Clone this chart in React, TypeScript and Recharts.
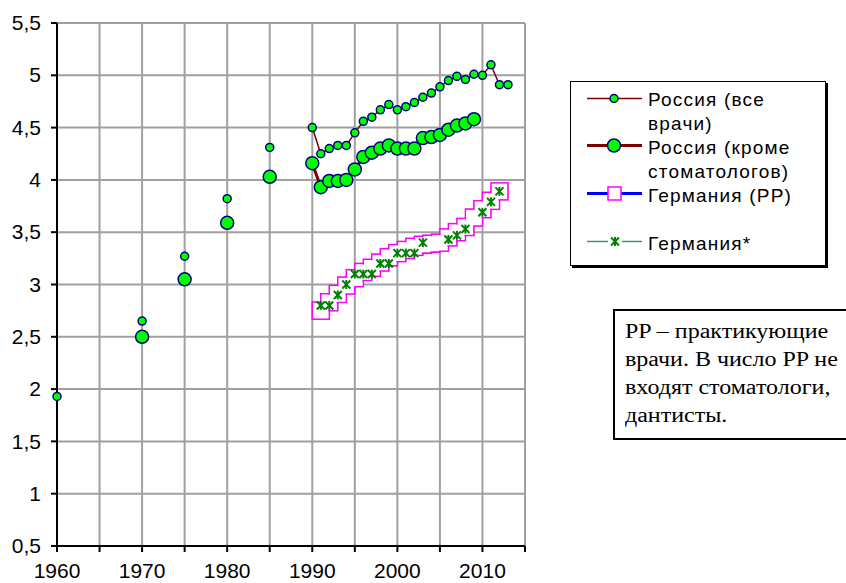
import { LineChart, Line, XAxis, YAxis, CartesianGrid } from "recharts";

// Россия (все врачи)
const russiaAllYears = [
  1960, 1970, 1975, 1980, 1985,
  1990, 1991, 1992, 1993, 1994, 1995, 1996, 1997, 1998, 1999, 2000, 2001,
  2002, 2003, 2004, 2005, 2006, 2007, 2008, 2009, 2010, 2011, 2012, 2013,
];
const russiaAllValues = [
  1.93, 2.65, 3.27, 3.82, 4.31,
  4.5, 4.25, 4.3, 4.33, 4.33, 4.45, 4.56, 4.6, 4.67, 4.72, 4.67, 4.7,
  4.74, 4.79, 4.83, 4.89, 4.95, 4.99, 4.96, 5.01, 5.0, 5.1, 4.91, 4.91,
];

// Россия (кроме стоматологов)
const russiaExclYears = [
  1970, 1975, 1980, 1985,
  1990, 1991, 1992, 1993, 1994, 1995, 1996, 1997, 1998, 1999, 2000, 2001,
  2002, 2003, 2004, 2005, 2006, 2007, 2008, 2009,
];
const russiaExclValues = [
  2.5, 3.05, 3.59, 4.03,
  4.16, 3.93, 3.99, 3.99, 4.0, 4.1, 4.22, 4.26, 4.3, 4.33, 4.3, 4.3,
  4.3, 4.4, 4.41, 4.43, 4.48, 4.52, 4.54, 4.58,
];

// Германия (PP)
const germanyPPYears = [
  1991, 1992, 1993, 1994, 1995, 1996, 1997, 1998, 1999, 2000, 2001,
  2002, 2003, 2004, 2005, 2006, 2007, 2008, 2009, 2010, 2011, 2012,
];
const germanyPPValues = [
  2.75, 2.83, 2.91, 2.99, 3.06, 3.12, 3.16, 3.21, 3.26, 3.3, 3.33,
  3.36, 3.38, 3.39, 3.4, 3.45, 3.5, 3.55, 3.64, 3.72, 3.8, 3.89,
];

// Германия*
const germanyStarYears = [
  1991, 1992, 1993, 1994, 1995, 1996, 1997, 1998, 1999, 2000, 2001,
  2002, 2003, 2006, 2007, 2008, 2010, 2011, 2012,
];
const germanyStarValues = [
  2.8, 2.8, 2.9, 3.0, 3.1, 3.1, 3.1, 3.2, 3.2, 3.3, 3.3,
  3.3, 3.4, 3.43, 3.47, 3.53, 3.69, 3.79, 3.89,
];

const xTicks = [1960, 1965, 1970, 1975, 1980, 1985, 1990, 1995, 2000, 2005, 2010, 2015];
const xLabels = [1960, 1970, 1980, 1990, 2000, 2010];
const yTicks = [0.5, 1, 1.5, 2, 2.5, 3, 3.5, 4, 4.5, 5, 5.5];

const firstYear = 1960;
const lastYear = 2013;

const pick = (years: number[], values: number[], year: number) => {
  const i = years.indexOf(year);
  return i >= 0 ? values[i] : null;
};

// one row per year so that missing years break the lines
const data = Array.from({ length: lastYear - firstYear + 1 }, (_, i) => {
  const year = firstYear + i;
  return {
    year,
    rusAll: pick(russiaAllYears, russiaAllValues, year),
    rusExcl: pick(russiaExclYears, russiaExclValues, year),
    gerPP: pick(germanyPPYears, germanyPPValues, year),
    gerStar: pick(germanyStarYears, germanyStarValues, year),
  };
});

const okPoint = (p: any) =>
  p.value != null && Number.isFinite(p.cx) && Number.isFinite(p.cy);

const SQ = 17;

// outline pass of the square markers
const SquareDot = (props: any) => {
  const { cx, cy, index } = props;
  if (!okPoint(props)) return <g key={`sq-${index}`} />;
  return (
    <rect
      key={`sq-${index}`}
      x={cx - SQ / 2}
      y={cy - SQ / 2}
      width={SQ}
      height={SQ}
      fill="#ffffff"
      stroke="#ff00ff"
      strokeWidth={1.6}
    />
  );
};

// fill pass: wipes the inner edges so only the outer stair outline stays
const SquareFill = (props: any) => {
  const { cx, cy, index } = props;
  if (!okPoint(props)) return <g key={`sf-${index}`} />;
  const s = SQ - 2;
  return (
    <rect key={`sf-${index}`} x={cx - s / 2} y={cy - s / 2} width={s} height={s} fill="#ffffff" />
  );
};

const StarDot = (props: any) => {
  const { cx, cy, index } = props;
  if (!okPoint(props)) return <g key={`st-${index}`} />;
  return (
    <g key={`st-${index}`} stroke="#008000" strokeWidth={2}>
      <line x1={cx - 4} y1={cy - 4} x2={cx + 4} y2={cy + 4} />
      <line x1={cx - 4} y1={cy + 4} x2={cx + 4} y2={cy - 4} />
      <line x1={cx} y1={cy - 4.5} x2={cx} y2={cy + 4.5} />
    </g>
  );
};

const sans = "Liberation Sans, Arial, sans-serif";

const XTick = (props: any) => {
  const { x, y, payload } = props;
  if (!xLabels.includes(payload.value)) return <g />;
  return (
    <text
      transform={`translate(${x},${y}) scale(1.05,1)`}
      textAnchor="middle"
      dy="0.71em"
      fontSize={20}
      fontFamily={sans}
      fill="#000"
    >
      {payload.value}
    </text>
  );
};

const YTick = (props: any) => {
  const { x, y, payload } = props;
  return (
    <text
      transform={`translate(${x},${y}) scale(1.05,1)`}
      textAnchor="end"
      dy="0.355em"
      fontSize={20}
      fontFamily={sans}
      fill="#000"
    >
      {String(payload.value).replace(".", ",")}
    </text>
  );
};

const Legend = () => (
  <svg
    width={256}
    height={185}
    style={{
      position: "absolute",
      left: 570,
      top: 81,
      background: "#fff",
      border: "1.5px solid #000",
      boxShadow: "2px 2px 0 #000",
      boxSizing: "border-box",
    }}
  >
    <g fontFamily={sans} fontSize={19} fill="#000" letterSpacing={1.2}>
      <line x1={16} y1={16.5} x2={71} y2={16.5} stroke="#800000" strokeWidth={1.5} />
      <circle cx={43} cy={16.5} r={4} fill="#00ff00" stroke="#000080" strokeWidth={1.5} />
      <text x={77} y={23.5}>Россия (все</text>
      <text x={77} y={47.5}>врачи)</text>

      <line x1={16} y1={63.5} x2={71} y2={63.5} stroke="#800000" strokeWidth={3} />
      <circle cx={43} cy={63.5} r={6.5} fill="#00ff00" stroke="#000080" strokeWidth={1.5} />
      <text x={77} y={71.5}>Россия (кроме</text>
      <text x={77} y={95.5}>стоматологов)</text>

      <line x1={16} y1={111.5} x2={71} y2={111.5} stroke="#0000ff" strokeWidth={3} />
      <rect x={37} y={105} width={13} height={13} fill="#fff" stroke="#ff00ff" strokeWidth={1.5} />
      <text x={77} y={119.5}>Германия (PP)</text>

      <line x1={16} y1={159.5} x2={37} y2={159.5} stroke="#3c9a6a" strokeWidth={1.5} />
      <line x1={51} y1={159.5} x2={71} y2={159.5} stroke="#3c9a6a" strokeWidth={1.5} />
      <g stroke="#008000" strokeWidth={2}>
        <line x1={40} y1={155.5} x2={48} y2={163.5} />
        <line x1={40} y1={163.5} x2={48} y2={155.5} />
        <line x1={44} y1={155} x2={44} y2={164} />
      </g>
      <text x={77} y={167.5}>Германия*</text>
    </g>
  </svg>
);

const noteLines = [
  "PP – практикующие",
  "врачи. В число PP не",
  "входят стоматологи,",
  "дантисты.",
];

const Note = () => (
  <div
    style={{
      position: "absolute",
      left: 613,
      top: 309,
      width: 260,
      height: 131,
      boxSizing: "border-box",
      border: "2px solid #000",
      background: "#fff",
      padding: "6px 0 0 10px",
      fontFamily: "Liberation Serif, Times New Roman, serif",
      fontSize: 20,
      lineHeight: "28px",
      color: "#000",
    }}
  >
    {noteLines.map((t) => (
      <div
        key={t}
        style={{ whiteSpace: "nowrap", transform: "scaleX(1.2)", transformOrigin: "0 0" }}
      >
        {t}
      </div>
    ))}
  </div>
);

export default function App() {
  return (
    <div
      style={{
        position: "absolute",
        left: 0,
        top: 0,
        width: 846,
        height: 583,
        overflow: "hidden",
        background: "#fff",
      }}
    >
      <LineChart
        width={846}
        height={583}
        data={data}
        margin={{ top: 23, right: 321, left: 0, bottom: 0 }}
      >
        <CartesianGrid stroke="#a0a0a0" strokeWidth={2} />
        <XAxis
          dataKey="year"
          type="number"
          domain={[1960, 2015]}
          ticks={xTicks}
          interval={0}
          height={37}
          tickSize={6}
          tickMargin={12}
          axisLine={{ stroke: "#000", strokeWidth: 2 }}
          tickLine={{ stroke: "#000", strokeWidth: 2 }}
          tick={XTick}
        />
        <YAxis
          type="number"
          domain={[0.5, 5.5]}
          ticks={yTicks}
          interval={0}
          width={57}
          tickSize={6}
          tickMargin={10}
          axisLine={{ stroke: "#000", strokeWidth: 2 }}
          tickLine={{ stroke: "#000", strokeWidth: 2 }}
          tick={YTick}
        />
        <Line
          dataKey="rusAll"
          name="Россия (все врачи)"
          stroke="#800000"
          strokeWidth={1.5}
          dot={{ r: 4, fill: "#00ff00", stroke: "#000080", strokeWidth: 1.5 }}
          isAnimationActive={false}
        />
        <Line
          dataKey="rusExcl"
          name="Россия (кроме стоматологов)"
          stroke="#800000"
          strokeWidth={3}
          dot={{ r: 6.5, fill: "#00ff00", stroke: "#000080", strokeWidth: 1.5 }}
          isAnimationActive={false}
        />
        <Line
          dataKey="gerStar"
          name="Германия* линия"
          stroke="#3c9a6a"
          strokeWidth={1.5}
          dot={false}
          isAnimationActive={false}
        />
        <Line
          dataKey="gerPP"
          name="Германия (PP)"
          stroke="#0000ff"
          strokeWidth={3}
          dot={SquareDot}
          isAnimationActive={false}
        />
        <Line
          dataKey="gerPP"
          name="Германия (PP) заливка"
          stroke="none"
          dot={SquareFill}
          isAnimationActive={false}
        />
        <Line
          dataKey="gerStar"
          name="Германия*"
          stroke="none"
          dot={StarDot}
          isAnimationActive={false}
        />
      </LineChart>
      <Legend />
      <Note />
    </div>
  );
}
